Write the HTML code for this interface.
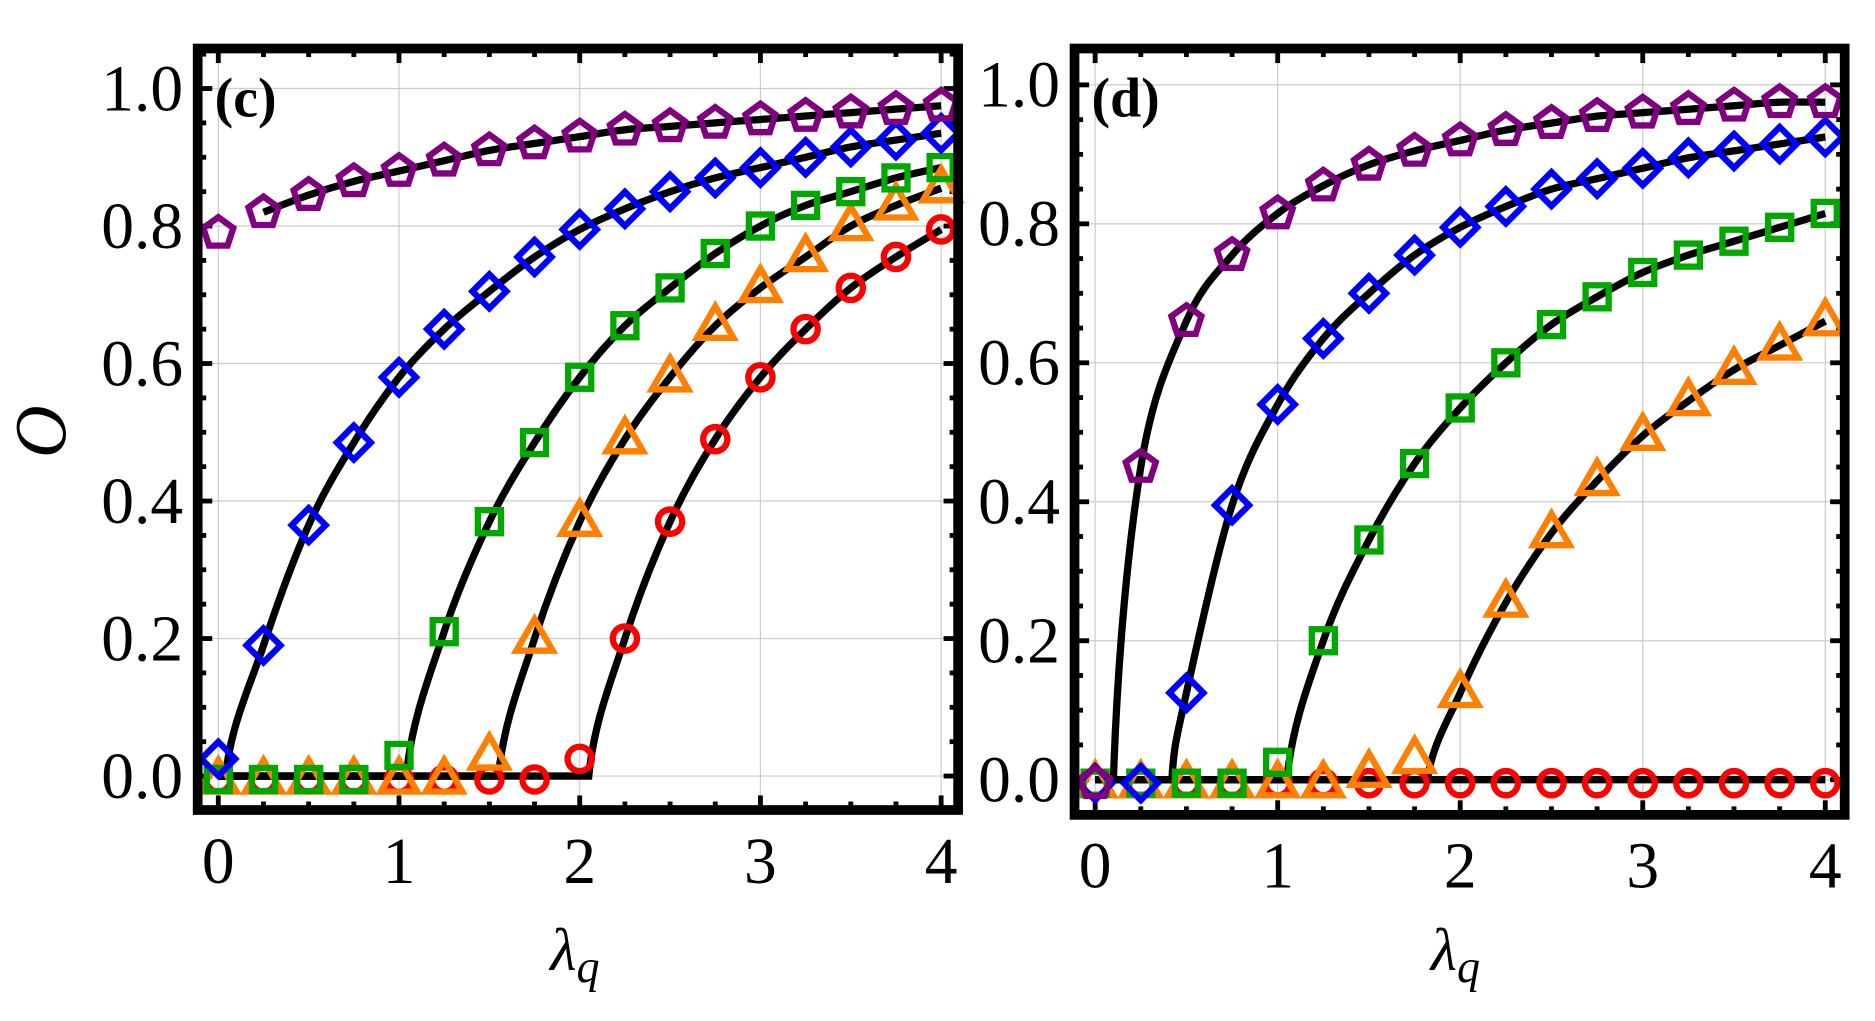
<!DOCTYPE html>
<html><head><meta charset="utf-8"><style>
html,body{margin:0;padding:0;background:#fff;width:1875px;height:1021px;overflow:hidden}
svg{display:block}
text{font-family:"Liberation Serif",serif;fill:#000}
</style></head><body>
<svg id="s" width="1875" height="1021" viewBox="0 0 1546 842" preserveAspectRatio="none" xmlns="http://www.w3.org/2000/svg"></svg>
<script>
const S=document.getElementById('s');let h='';
const C={p:'#800080',b:'#0000ff',g:'#00a800',o:'#ff8000',r:'#ff0000'};
function panel(P){
 const X=l=>P.x0+l*P.xu, Y=v=>P.y0-v*P.yu;
 for(let i=0;i<=4;i++)h+=`<line x1="${X(i)}" y1="${P.fy0}" x2="${X(i)}" y2="${P.fy1}" stroke="#ccc" stroke-width="1"/>`;
 for(let j=0;j<=5;j++)h+=`<line x1="${P.fx0}" y1="${Y(j*.2)}" x2="${P.fx1}" y2="${Y(j*.2)}" stroke="#ccc" stroke-width="1"/>`;
 for(let l=0;l<=4.001;l+=0.25){const maj=Math.abs(l-Math.round(l))<1e-6;const L=maj?12:7;
  h+=`<line x1="${X(l)}" y1="${P.fy1}" x2="${X(l)}" y2="${P.fy1-L}" stroke="#000" stroke-width="4"/>`;
  h+=`<line x1="${X(l)}" y1="${P.fy0}" x2="${X(l)}" y2="${P.fy0+L}" stroke="#000" stroke-width="4"/>`;}
 for(let v=-0.05;v<=1.051;v+=0.05){const maj=Math.abs(v*5-Math.round(v*5))<1e-6;const L=maj?12:7;
  if(Y(v)<P.fy0||Y(v)>P.fy1)continue;
  h+=`<line x1="${P.fx0}" y1="${Y(v)}" x2="${P.fx0+L}" y2="${Y(v)}" stroke="#000" stroke-width="4"/>`;
  h+=`<line x1="${P.fx1}" y1="${Y(v)}" x2="${P.fx1-L}" y2="${Y(v)}" stroke="#000" stroke-width="4"/>`;}
 P.series.forEach(s=>{
  const t=s.t;const cp=[];if(t>0)cp.push([t,0]);
  s.v.forEach((v,i)=>{const l=i*0.25;if(l>t+0.01)cp.push([l,v]);});
  let d=t>0?`M${X(0)},${Y(0)} L${X(t)},${Y(0)}`:`M${X(cp[0][0])},${Y(cp[0][1])}`;
  const q=cp.map(p=>[X(p[0]),Y(p[1])]);
  for(let i=0;i<q.length-1;i++){const p0=q[Math.max(0,i-1)],p1=q[i],p2=q[i+1],p3=q[Math.min(q.length-1,i+2)];
   let c1=[p1[0]+(p2[0]-p0[0])/6,p1[1]+(p2[1]-p0[1])/6],c2=[p2[0]-(p3[0]-p1[0])/6,p2[1]-(p3[1]-p1[1])/6];
   if(i==0&&t>0){c1=[p1[0]+(p2[0]-p1[0])*0.15,p1[1]+(p2[1]-p1[1])*0.4];}
   d+=` C${c1[0]},${c1[1]} ${c2[0]},${c2[1]} ${p2[0]},${p2[1]}`;}
  h+=`<path d="${d}" fill="none" stroke="#000" stroke-width="6"/>`;
 });
 P.series.slice().reverse().forEach(s=>{
  s.m.forEach((v,i)=>{const x=X(i*0.25),y=Y(v<0.005?-0.005:v);const c=C[s.c];const a=`fill="none" stroke="${c}" stroke-width="5.2"`;
   if(s.c=='r')h+=`<circle cx="${x}" cy="${y}" r="10" ${a}/>`;
   else if(s.c=='g')h+=`<rect x="${x-9.5}" y="${y-9.5}" width="19" height="19" ${a}/>`;
   else if(s.c=='b')h+=`<polygon points="${x},${y-14} ${x+14},${y} ${x},${y+14} ${x-14},${y}" ${a}/>`;
   else if(s.c=='o')h+=`<polygon points="${x},${y-16} ${x+15},${y+10} ${x-15},${y+10}" ${a}/>`;
   else{let pp=[];for(let k=0;k<5;k++){const an=-Math.PI/2+k*2*Math.PI/5;pp.push((x+13*Math.cos(an))+','+(y+13*Math.sin(an)));}h+=`<polygon points="${pp.join(' ')}" ${a}/>`;}
  });
 });
 h+=`<rect x="${P.fx0}" y="${P.fy0}" width="${P.fx1-P.fx0}" height="${P.fy1-P.fy0}" fill="none" stroke="#000" stroke-width="8"/>`;
 for(let j=0;j<=5;j++)h+=`<text x="${P.fx0-12}" y="${Y(j*.2)+18}" font-size="54" text-anchor="end">${(j*.2).toFixed(1)}</text>`;
 for(let i=0;i<=4;i++)h+=`<text x="${X(i)}" y="${P.fy1+60}" font-size="54" text-anchor="middle">${i}</text>`;
 h+=`<text x="${X(2)-4}" y="800" font-size="50" font-style="italic" text-anchor="middle">λ<tspan font-size="38" dy="10">q</tspan></text>`;
 h+=`<text x="${P.fx0+14}" y="${P.fy0+56}" font-size="46" font-weight="bold">${P.lab}</text>`;
}
panel({x0:180,xu:149,y0:640,yu:567,fx0:163,fx1:790,fy0:40,fy1:668,lab:'(c)',series:[
 {c:'p',t:0,v:[0.79,0.82,0.845,0.865,0.88,0.895,0.91,0.92,0.93,0.94,0.945,0.95,0.955,0.96,0.965,0.97,0.975],m:[0.79,0.82,0.845,0.865,0.88,0.895,0.91,0.92,0.93,0.94,0.945,0.95,0.955,0.96,0.965,0.97,0.975]},
 {c:'b',t:0.04,v:[0,0.19,0.365,0.485,0.58,0.65,0.705,0.755,0.795,0.825,0.85,0.87,0.885,0.9,0.915,0.925,0.935],m:[0.025,0.19,0.365,0.485,0.58,0.65,0.705,0.755,0.795,0.825,0.85,0.87,0.885,0.9,0.915,0.925,0.935]},
 {c:'g',t:1.04,v:[0,0,0,0,0,0.21,0.37,0.485,0.58,0.655,0.71,0.76,0.80,0.83,0.85,0.87,0.885],m:[0,0,0,0,0.03,0.21,0.37,0.485,0.58,0.655,0.71,0.76,0.80,0.83,0.85,0.87,0.885]},
 {c:'o',t:1.55,v:[0,0,0,0,0,0,0,0.2,0.37,0.49,0.58,0.655,0.71,0.755,0.80,0.83,0.855],m:[0,0,0,0,0,0,0.03,0.2,0.37,0.49,0.58,0.655,0.71,0.755,0.80,0.83,0.855]},
 {c:'r',t:2.05,v:[0,0,0,0,0,0,0,0,0,0.2,0.37,0.49,0.58,0.65,0.71,0.755,0.795],m:[0,0,0,0,0,0,0,0,0.025,0.2,0.37,0.49,0.58,0.65,0.71,0.755,0.795]}
]});
panel({x0:903,xu:150.5,y0:643,yu:573,fx0:886,fx1:1521,fy0:40,fy1:672,lab:'(d)',series:[
 {c:'p',t:0.1,v:[0,0.45,0.66,0.755,0.815,0.855,0.885,0.905,0.92,0.935,0.945,0.955,0.96,0.965,0.97,0.975,0.975],m:[0,0.45,0.66,0.755,0.815,0.855,0.885,0.905,0.92,0.935,0.945,0.955,0.96,0.965,0.97,0.975,0.975]},
 {c:'b',t:0.42,v:[0,0,0.125,0.395,0.54,0.635,0.70,0.755,0.795,0.825,0.85,0.865,0.88,0.895,0.905,0.915,0.925],m:[0,0,0.125,0.395,0.54,0.635,0.70,0.755,0.795,0.825,0.85,0.865,0.88,0.895,0.905,0.915,0.925]},
 {c:'g',t:1.05,v:[0,0,0,0,0,0.2,0.345,0.455,0.535,0.6,0.655,0.695,0.73,0.755,0.775,0.795,0.815],m:[0,0,0,0,0.025,0.2,0.345,0.455,0.535,0.6,0.655,0.695,0.73,0.755,0.775,0.795,0.815]},
 {c:'o',t:1.82,v:[0,0,0,0,0,0,0,0,0.125,0.255,0.355,0.43,0.495,0.545,0.59,0.625,0.66],m:[0,0,0,0,0,0,0.01,0.03,0.125,0.255,0.355,0.43,0.495,0.545,0.59,0.625,0.66]},
 {c:'r',t:4,v:[0,0,0,0,0,0,0,0,0,0,0,0,0,0,0,0,0],m:[0,0,0,0,0,0,0,0,0,0,0,0,0,0,0,0,0]}
]});
h+=`<text x="0" y="0" font-size="60" font-style="italic" transform="translate(54,356) rotate(-90)" text-anchor="middle">O</text>`;
S.innerHTML=h;
</script>
</body></html>
